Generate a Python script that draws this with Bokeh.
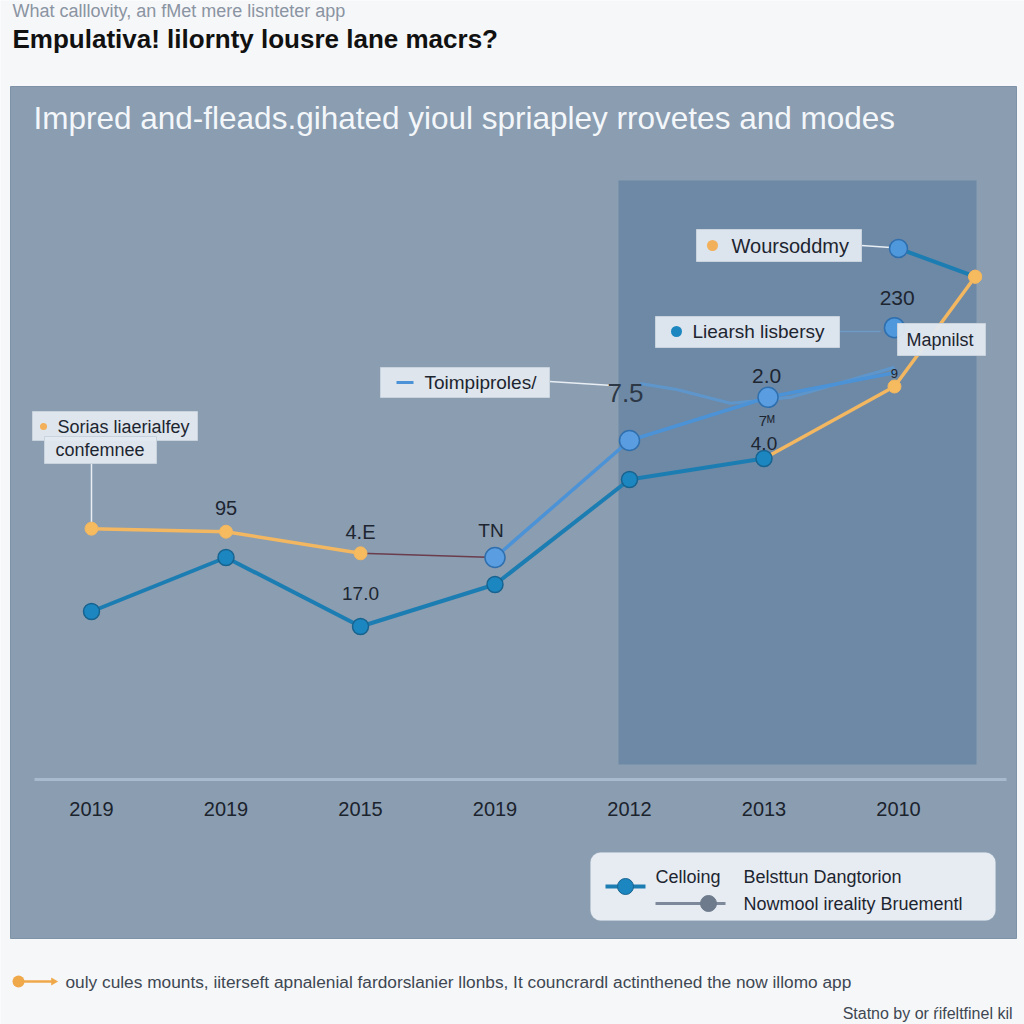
import numpy as np
from bokeh.plotting import figure
from bokeh.models import Range1d, BoxAnnotation
from bokeh.core.properties import value
from bokeh.embed import file_html
from bokeh.resources import INLINE

# ---------------- data ----------------
years = ["2019", "2019", "2015", "2019", "2012", "2013", "2010"]
year_pos = [0, 1, 2, 3, 4, 5, 6]

celloing_x = [0, 1, 2, 3, 4, 5]
celloing_y = [2.8, 3.7, 2.55, 3.25, 5.0, 5.35]

belsttun_x = [0, 1, 2, np.nan, 5, 5.97, 6.57]
belsttun_y = [4.18, 4.13, 3.77, np.nan, 5.35, 6.55, 8.38]
belsttun_mx = [0, 1, 2, 5.97, 6.57]
belsttun_my = [4.18, 4.13, 3.77, 6.55, 8.38]

nowmool_x = [3, 4, 5.03, 5.97]
nowmool_y = [3.7, 5.65, 6.37, 6.78]
nowmool_mx = [3, 4, 5.03]
nowmool_my = [3.7, 5.65, 6.37]

toimp_x = [4.08, 4.35, 4.75, 5.2, 5.97]
toimp_y = [6.6, 6.5, 6.27, 6.37, 6.87]

liearsh_x = [5.97]
liearsh_y = [7.53]

wours_x = [6.0, 6.57]
wours_y = [8.85, 8.38]

link_x = [2, 3]
link_y = [3.77, 3.7]

val_labels = ["95", "4.E", "TN", "17.0", "2.0", "7ᴹ", "4.0", "230", "9"]
val_x = [1, 2, 2.97, 2, 5.02, 5.02, 5.0, 5.99, 5.97]
val_y = [4.53, 4.13, 4.15, 3.1, 6.72, 5.98, 5.6, 8.03, 6.77]
val_size = ["20px", "20px", "19px", "19px", "21px", "15px", "19px", "21px", "13px"]

# ---------------- layout helpers (page pixels -> data) ----------------
SX = 134.5
SY = 60.0
X0 = -91 / SX


def X(px):
    return X0 + px / SX


def Y(py):
    return (779 - py) / SY


FONT = value("Liberation Sans")

p = figure(width=1024, height=1024, x_range=Range1d(X(0), X(1024)),
           y_range=Range1d(Y(1024), Y(0)), output_backend="svg",
           toolbar_location=None, min_border=0, x_axis_location=None,
           y_axis_location=None, background_fill_color="#f6f7f9",
           border_fill_color="#f6f7f9", outline_line_color=None)
p.xgrid.grid_line_color = None
p.ygrid.grid_line_color = None


def txt(px, py, s, size, color, bold=False, align="left", baseline="middle"):
    p.text(x=[X(px)], y=[Y(py)], text=[s], text_font=FONT, text_font_size=size,
           text_color=color, text_font_style="bold" if bold else "normal",
           text_align=align, text_baseline=baseline)


def box(l, t, r, b, fill="#e3e9f0", line="#c9d3de", alpha=0.95):
    p.quad(left=[X(l)], right=[X(r)], top=[Y(t)], bottom=[Y(b)],
           fill_color=fill, fill_alpha=alpha, line_color=line, line_width=1)


# panel and highlight (underlay so the rounded legend box can sit above them)
p.quad(left=[X(10)], right=[X(1016)], top=[Y(86)], bottom=[Y(938)],
       fill_color="#8a9db1", line_color="#7f93a8", line_width=1, level="underlay")
p.quad(left=[X(618)], right=[X(976)], top=[Y(180)], bottom=[Y(764)],
       fill_color="#6d89a6", line_color=None, level="underlay")
p.add_layout(BoxAnnotation(left=X(590), right=X(995), top=Y(852), bottom=Y(920),
                           fill_color="#e7ecf2", fill_alpha=1, line_color="#cbd5e0",
                           line_width=1, border_radius=10, level="underlay"))

# axis line
p.line(x=[X(34), X(1006)], y=[0, 0], line_color="#a8bacd", line_width=3)

# tick labels
p.text(x=year_pos, y=[Y(808)] * len(years), text=years, text_font=FONT,
       text_font_size="20px", text_color="#1b232d", text_align="center",
       text_baseline="middle")

# leader lines
p.line(x=[X(91), X(91)], y=[Y(463), Y(522)], line_color="#e8eef4", line_width=1.5)
p.line(x=[X(549), X(612)], y=[Y(381), Y(385)], line_color="#e8eef4", line_width=1.5)
p.line(x=[X(861), X(890)], y=[Y(245), Y(247)], line_color="#e8eef4", line_width=1.5)
p.line(x=[X(839), X(880)], y=[Y(331), Y(331)], line_color="#6fa3d6", line_width=1.5, line_alpha=0.6)

# faint trend (Toimpiproles)
p.line(x=toimp_x, y=toimp_y, line_color="#5a9bd8", line_width=3, line_alpha=0.75)

# thin link
p.line(x=link_x, y=link_y, line_color="#6a3c4c", line_width=1.5)

# series lines
p.line(x=celloing_x, y=celloing_y, line_color="#1c7db3", line_width=4)
p.line(x=belsttun_x, y=belsttun_y, line_color="#f2b760", line_width=3.5)
p.line(x=nowmool_x, y=nowmool_y, line_color="#4b92d6", line_width=3.5)
p.line(x=wours_x, y=wours_y, line_color="#1c7db3", line_width=4)

# markers
p.scatter(x=celloing_x, y=celloing_y, size=16, fill_color="#1c86c0",
          line_color="#17638f", line_width=1.5)
p.scatter(x=belsttun_mx, y=belsttun_my, size=13, fill_color="#f6bb5e",
          line_color="#f2b760", line_width=1)
p.scatter(x=nowmool_mx, y=nowmool_my, size=20, fill_color="#5a9de0",
          line_color="#2f6fae", line_width=1.5)
p.scatter(x=liearsh_x, y=liearsh_y, size=20, fill_color="#4f98dc",
          line_color="#2f6fae", line_width=1.5)
p.scatter(x=wours_x[:1], y=wours_y[:1], size=18, fill_color="#4f98dc",
          line_color="#2f6fae", line_width=1.5)
p.scatter(x=wours_x[1:], y=wours_y[1:], size=13, fill_color="#f6bb5e",
          line_color="#f2b760", line_width=1)

# value labels
p.text(x=val_x, y=val_y, text=val_labels, text_font=FONT, text_font_size=val_size,
       text_color="#1d2530", text_align="center", text_baseline="middle")
txt(625, 392, "7.5", "26px", "#2c3846", align="center")

# callouts
box(32, 411, 197, 440)
box(44, 436, 156, 463)
p.scatter(x=[X(43)], y=[Y(426)], size=7, fill_color="#f2b05a", line_color=None)
txt(57, 426, "Sorias liaerialfey", "18px", "#1d2530")
txt(55, 449, "confemnee", "18px", "#1d2530")

box(380, 367, 549, 397)
p.line(x=[X(396), X(413)], y=[Y(382), Y(382)], line_color="#4b92d6", line_width=3)
txt(424, 382, "Toimpiproles/", "19px", "#1d2530")

box(696, 229, 861, 261)
p.scatter(x=[X(712)], y=[Y(245)], size=11, fill_color="#f2b05a", line_color=None)
txt(731, 245, "Woursoddmy", "20px", "#1d2530")

box(655, 316, 839, 347)
p.scatter(x=[X(676)], y=[Y(331)], size=11, fill_color="#1c86c0", line_color=None)
txt(692, 331, "Liearsh lisbersy", "19px", "#1d2530")

box(897, 323, 985, 355)
txt(906, 339, "Mapnilst", "18px", "#1d2530")

# legend contents
p.line(x=[X(605), X(645)], y=[Y(886), Y(886)], line_color="#1c7db3", line_width=4)
p.scatter(x=[X(625)], y=[Y(886)], size=16, fill_color="#1c86c0", line_color="#17638f")
txt(655, 876, "Celloing", "18px", "#1d2530")
txt(743, 876, "Belsttun Dangtorion", "18px", "#1d2530")
p.line(x=[X(655), X(725)], y=[Y(903), Y(903)], line_color="#7d899a", line_width=3)
p.scatter(x=[X(708)], y=[Y(903)], size=16, fill_color="#6e7b8c", line_color="#6e7b8c")
txt(743, 903, "Nowmool ireality Bruementl", "18px", "#1d2530")

# titles
txt(12, 10, "What calllovity, an fMet mere lisnteter app", "18px", "#8a94a2")
txt(12, 38, "Empulativa! lilornty lousre lane macrs?", "26px", "#111111", bold=True)
txt(33, 117, "Impred and-fleads.gihated yioul spriapley rrovetes and modes", "31.5px", "#f4f7fa")

# footer
p.line(x=[X(14), X(52)], y=[Y(981), Y(981)], line_color="#f0a94a", line_width=2.5)
p.scatter(x=[X(18)], y=[Y(981)], size=12, fill_color="#f0a94a", line_color=None)
p.scatter(x=[X(53)], y=[Y(981)], size=8, marker="triangle", angle=-np.pi / 2,
          fill_color="#f0a94a", line_color=None)
txt(65, 981, "ouly cules mounts, iiterseft apnalenial fardorslanier llonbs, It councrardl actinthened the now illomo app",
    "17.3px", "#3e4752")
txt(1012, 1013, "Statno by or ŕifeltfinel kil", "16px", "#3e4752", align="right")

open("out.html", "w").write(file_html(p, INLINE))
